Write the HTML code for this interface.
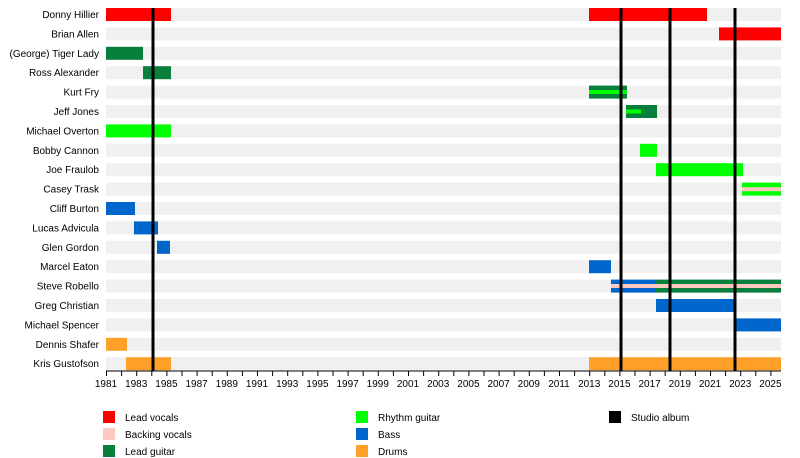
<!DOCTYPE html>
<html><head><meta charset="utf-8"><style>body{margin:0;background:#fff}svg{display:block}text{font-family:"Liberation Sans",Arial,sans-serif;font-size:10px;fill:#000}</style></head><body>
<svg width="800" height="458" viewBox="0 0 800 458" xmlns="http://www.w3.org/2000/svg">
<g fill="#f0f0f0">
<rect x="106" y="8" width="675" height="13"/><rect x="106" y="27.4" width="675" height="13"/><rect x="106" y="46.8" width="675" height="13"/><rect x="106" y="66.2" width="675" height="13"/><rect x="106" y="85.6" width="675" height="13"/><rect x="106" y="105" width="675" height="13"/><rect x="106" y="124.4" width="675" height="13"/><rect x="106" y="143.8" width="675" height="13"/><rect x="106" y="163.2" width="675" height="13"/><rect x="106" y="182.6" width="675" height="13"/><rect x="106" y="202" width="675" height="13"/><rect x="106" y="221.4" width="675" height="13"/><rect x="106" y="240.8" width="675" height="13"/><rect x="106" y="260.2" width="675" height="13"/><rect x="106" y="279.6" width="675" height="13"/><rect x="106" y="299" width="675" height="13"/><rect x="106" y="318.4" width="675" height="13"/><rect x="106" y="337.8" width="675" height="13"/><rect x="106" y="357.2" width="675" height="13"/>
</g>
<g text-anchor="end">
<text x="99" y="18">Donny Hillier</text><text x="99" y="37.4">Brian Allen</text><text x="99" y="56.8">(George) Tiger Lady</text><text x="99" y="76.2">Ross Alexander</text><text x="99" y="95.6">Kurt Fry</text><text x="99" y="115">Jeff Jones</text><text x="99" y="134.4">Michael Overton</text><text x="99" y="153.8">Bobby Cannon</text><text x="99" y="173.2">Joe Fraulob</text><text x="99" y="192.6">Casey Trask</text><text x="99" y="212">Cliff Burton</text><text x="99" y="231.4">Lucas Advicula</text><text x="99" y="250.8">Glen Gordon</text><text x="99" y="270.2">Marcel Eaton</text><text x="99" y="289.6">Steve Robello</text><text x="99" y="309">Greg Christian</text><text x="99" y="328.4">Michael Spencer</text><text x="99" y="347.8">Dennis Shafer</text><text x="99" y="367.2">Kris Gustofson</text>
</g>
<g fill="#ff0000"><rect x="106" y="8" width="65" height="13"/><rect x="589" y="8" width="118" height="13"/><rect x="719" y="27.4" width="62" height="13"/></g>
<g fill="#087f3a"><rect x="106" y="46.8" width="37" height="13"/><rect x="143" y="66.2" width="28" height="13"/><rect x="589" y="85.6" width="38" height="13"/><rect x="626" y="105" width="31" height="13"/></g>
<g fill="#00ff00"><rect x="589" y="90" width="38" height="4"/><rect x="626" y="109.5" width="15" height="4"/>
<rect x="106" y="124.4" width="65" height="13"/><rect x="640" y="143.8" width="17" height="13"/><rect x="656" y="163.2" width="87" height="13"/><rect x="742" y="182.6" width="39" height="13"/></g>
<rect x="742" y="187.2" width="39" height="4" fill="#fcc8c0"/>
<g fill="#0066cc"><rect x="106" y="202" width="29" height="13"/><rect x="134" y="221.4" width="24" height="13"/><rect x="157" y="240.8" width="13" height="13"/><rect x="589" y="260.2" width="22" height="13"/><rect x="611" y="279.6" width="45" height="13"/><rect x="656" y="299" width="79" height="13"/><rect x="734" y="318.4" width="47" height="13"/></g>
<rect x="656" y="279.6" width="125" height="13" fill="#087f3a"/>
<rect x="611" y="284" width="170" height="4" fill="#fcc8c0"/>
<g fill="#ffa02a"><rect x="106" y="337.8" width="21" height="13"/><rect x="126" y="357.2" width="45" height="13"/><rect x="589" y="357.2" width="192" height="13"/></g>
<g stroke="#000" stroke-width="3"><line x1="153" y1="8" x2="153" y2="371"/><line x1="621" y1="8" x2="621" y2="371"/><line x1="670" y1="8" x2="670" y2="371"/><line x1="735" y1="8" x2="735" y2="371"/></g>
<line x1="106" y1="371" x2="781" y2="371" stroke="#000" stroke-width="1"/>
<path stroke="#000" stroke-width="1" d="M106.5 371v5M121.6 371v5M136.7 371v5M151.8 371v5M166.9 371v5M182 371v5M197.1 371v5M212.2 371v5M227.3 371v5M242.4 371v5M257.5 371v5M272.6 371v5M287.7 371v5M302.8 371v5M317.9 371v5M333 371v5M348.1 371v5M363.2 371v5M378.3 371v5M393.4 371v5M408.5 371v5M423.6 371v5M438.7 371v5M453.8 371v5M468.9 371v5M484 371v5M499.1 371v5M514.2 371v5M529.3 371v5M544.4 371v5M559.5 371v5M574.6 371v5M589.7 371v5M604.8 371v5M619.9 371v5M635 371v5M650.1 371v5M665.2 371v5M680.3 371v5M695.4 371v5M710.5 371v5M725.6 371v5M740.7 371v5M755.8 371v5M770.9 371v5"/>
<g text-anchor="middle">
<text x="106" y="387">1981</text><text x="136.2" y="387">1983</text><text x="166.4" y="387">1985</text><text x="196.6" y="387">1987</text><text x="226.8" y="387">1989</text><text x="257" y="387">1991</text><text x="287.2" y="387">1993</text><text x="317.4" y="387">1995</text><text x="347.6" y="387">1997</text><text x="377.8" y="387">1999</text><text x="408" y="387">2001</text><text x="438.2" y="387">2003</text><text x="468.4" y="387">2005</text><text x="498.6" y="387">2007</text><text x="528.8" y="387">2009</text><text x="559" y="387">2011</text><text x="589.2" y="387">2013</text><text x="619.4" y="387">2015</text><text x="649.6" y="387">2017</text><text x="679.8" y="387">2019</text><text x="710" y="387">2021</text><text x="740.2" y="387">2023</text><text x="770.4" y="387">2025</text>
</g>
<rect x="103" y="411" width="12" height="12" fill="#ff0000"/><text x="125" y="421">Lead vocals</text>
<rect x="103" y="428" width="12" height="12" fill="#fcc8c0"/><text x="125" y="438">Backing vocals</text>
<rect x="103" y="445" width="12" height="12" fill="#087f3a"/><text x="125" y="455">Lead guitar</text>
<rect x="356" y="411" width="12" height="12" fill="#00ff00"/><text x="378" y="421">Rhythm guitar</text>
<rect x="356" y="428" width="12" height="12" fill="#0066cc"/><text x="378" y="438">Bass</text>
<rect x="356" y="445" width="12" height="12" fill="#ffa02a"/><text x="378" y="455">Drums</text>
<rect x="609" y="411" width="12" height="12" fill="#000"/><text x="631" y="421">Studio album</text>
</svg>
</body></html>
